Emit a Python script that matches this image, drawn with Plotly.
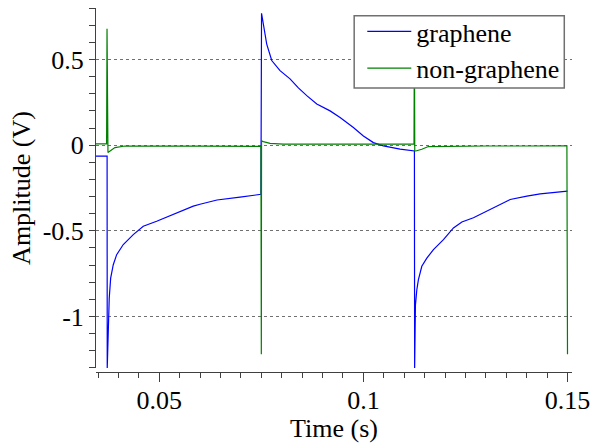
import plotly.graph_objects as go

# graphene (blue) trace
t_graphene = [0.0345, 0.0371, 0.03722, 0.03725, 0.0375, 0.03774, 0.03809, 0.03873, 0.03956, 0.04118,
              0.04363, 0.04608, 0.04936, 0.05343, 0.05833, 0.05998, 0.06414, 0.06978, 0.07468, 0.0749,
              0.07505, 0.07549, 0.07632, 0.07755, 0.07958, 0.08203, 0.08407, 0.08613, 0.08858, 0.09184,
              0.09429, 0.09755, 0.10000, 0.10245, 0.10490, 0.10899, 0.11225, 0.11250, 0.11255, 0.11275,
              0.11309, 0.11348, 0.11431, 0.11554, 0.11716, 0.11961, 0.12206, 0.12412, 0.12696, 0.13025,
              0.13350, 0.13596, 0.14005, 0.14331, 0.15]
v_graphene = [-0.064, -0.064, -0.064, -1.30, -1.05, -0.893, -0.776, -0.698, -0.639, -0.58,
              -0.522, -0.473, -0.444, -0.405, -0.356, -0.345, -0.32, -0.303, -0.289, -0.287,
              0.77, 0.70, 0.59, 0.494, 0.435, 0.387, 0.334, 0.289, 0.24, 0.20,
              0.162, 0.103, 0.054, 0.015, -0.004, -0.023, -0.033, -0.034, -1.30, -0.932,
              -0.844, -0.785, -0.707, -0.659, -0.61, -0.551, -0.483, -0.448, -0.424, -0.385,
              -0.346, -0.317, -0.297, -0.284, -0.268]

# non-graphene (green) trace
t_nongraphene = [0.0345, 0.0371, 0.03720, 0.03722, 0.03725, 0.03743, 0.03914, 0.04159, 0.0600, 0.0749,
                 0.07495, 0.0750, 0.07505, 0.07549, 0.07713, 0.08039, 0.0900, 0.1000, 0.1124, 0.11250,
                 0.11258, 0.11284, 0.11431, 0.11593, 0.12002, 0.1300, 0.1400, 0.14985, 0.15]
v_nongraphene = [0.008, 0.008, 0.68, 0.55, 0.30, -0.043, -0.014, -0.005, -0.006, -0.007,
                 -0.61, -1.22, 0.025, 0.021, 0.010, 0.006, 0.006, 0.006, 0.008, 0.70,
                 -0.034, -0.034, -0.024, -0.008, -0.006, -0.005, -0.005, -0.004, -1.22]

y_tickvals = [-1, -0.5, 0, 0.5]
y_ticktext = ["-1", "-0.5", "0", "0.5"]
x_tickvals = [0.05, 0.1, 0.15]
x_ticktext = ["0.05", "0.1", "0.15"]

FONT = "Liberation Serif, Times New Roman, serif"
FS = 26
fig = go.Figure()
fig.add_trace(go.Scatter(x=t_graphene, y=v_graphene, mode="lines", name="graphene",
                         line=dict(color="#0000FF", width=1.2)))
fig.add_trace(go.Scatter(x=t_nongraphene, y=v_nongraphene, mode="lines", name="non-graphene",
                         line=dict(color="#008000", width=1.2)))

# legend frame (white box behind the legend entries)
fig.add_shape(type="rect", xref="paper", yref="paper",
              x0=0.5424, x1=0.9838, y0=0.7802, y1=0.9788,
              fillcolor="white", line=dict(color="#707070", width=1.5), layer="above")

fig.update_layout(
    width=592, height=443,
    margin=dict(l=96, r=20, t=8, b=71, autoexpand=False),
    paper_bgcolor="white", plot_bgcolor="white",
    font=dict(family=FONT, size=FS, color="black"),
    showlegend=True,
    legend=dict(x=0.9838, y=1.0, xanchor="right", yanchor="top",
                bgcolor="rgba(0,0,0,0)", borderwidth=0,
                font=dict(family=FONT, size=FS, color="black"),
                itemwidth=44, tracegroupgap=0),
    xaxis=dict(range=[0.0345, 0.1511], anchor="free", position=0, automargin=False,
               tickvals=x_tickvals, ticktext=x_ticktext, ticklabelstandoff=-4,
               ticks="outside", ticklen=9, tickcolor="#404040", tickwidth=1,
               minor=dict(dtick=0.005, tick0=0, ticks="outside", ticklen=5, tickcolor="#404040", showgrid=False),
               showgrid=False, zeroline=False, showline=True, linecolor="#404040", linewidth=1,
               title=dict(text="Time (s)", font=dict(family=FONT, size=FS)),
               tickfont=dict(family=FONT, size=FS)),
    yaxis=dict(range=[-1.3005, 0.8005], domain=[0.011, 1], automargin=False,
               tickvals=y_tickvals, ticktext=y_ticktext,
               ticks="outside", ticklen=6, tickcolor="#404040", tickwidth=1,
               minor=dict(dtick=0.1, tick0=0, ticks="outside", ticklen=6, tickcolor="#404040", showgrid=False),
               showgrid=True, gridcolor="#707070", griddash="dot", gridwidth=1,
               zeroline=False, showline=True, linecolor="#404040", linewidth=1,
               title=dict(text="Amplitude (V)", standoff=4, font=dict(family=FONT, size=FS)),
               tickfont=dict(family=FONT, size=FS)),
)

fig.write_html("out.html", config={"displayModeBar": False},
               post_script="document.body.style.margin='0';document.body.style.padding='0';")
